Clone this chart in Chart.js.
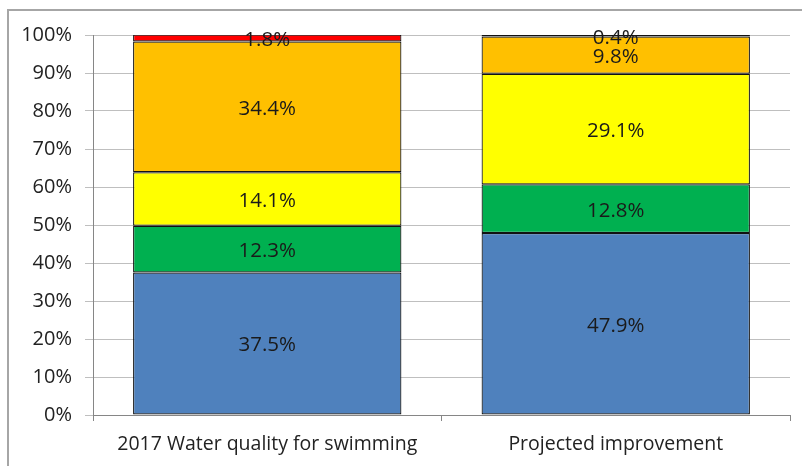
<!DOCTYPE html>
<html>
<head>
<meta charset="utf-8">
<script src="https://cdn.jsdelivr.net/npm/chart.js@4"></script>
<style>
    html, body { margin: 0; padding: 0; background: #fff; }
    #box { width: 802px; height: 466px; }
</style>
</head>
<body>
<div id="box"><canvas id="chart"></canvas></div>
<script>
/*
    stacked 100% bars, water quality
*/
const categories = ["2017 Water quality for swimming", "Projected improvement"];
const blueVals   = [37.5, 47.9];
const greenVals  = [12.3, 12.8];
const yellowVals = [14.1, 29.1];
const orangeVals = [34.4, 9.8];
const redVals    = [1.8, 0.4];
const yTicks     = [0, 10, 20, 30, 40, 50, 60, 70, 80, 90, 100];

const FONT = "'Open Sans', 'Liberation Sans', sans-serif";

function makeSet(data, color) {
    return {
        data: data,
        backgroundColor: color,
        borderColor: "#111",
        borderWidth: 1.2,
        borderSkipped: false,
        barPercentage: 0.77,
        categoryPercentage: 1.0
    };
}

// draws the value inside each segment
const labelPlugin = {
    id: "segLabels",
    afterDatasetsDraw(chart) {
        const ctx = chart.ctx;
        ctx.save();
        ctx.font = "20.5px " + FONT;
        ctx.fillStyle = "#1a1a1a";
        ctx.textAlign = "center";
        ctx.textBaseline = "middle";
        chart.data.datasets.forEach((ds, i) => {
            chart.getDatasetMeta(i).data.forEach((bar, j) => {
                const mid = (bar.y + bar.base) / 2;
                ctx.fillText(ds.data[j].toFixed(1) + "%", bar.x, mid + 2);
            });
        });
        ctx.restore();
    }
};

// outer frame of the picture
const framePlugin = {
    id: "frame",
    beforeDraw(chart) {
        const ctx = chart.ctx;
        ctx.save();
        ctx.strokeStyle = "#a6a6a6";
        ctx.lineWidth = 2;
        ctx.beginPath();
        ctx.moveTo(8, 466);
        ctx.lineTo(8, 10);
        ctx.lineTo(802, 10);
        ctx.stroke();
        ctx.restore();
    }
};

const chart = new Chart("chart", {
    type: "bar",
    data: {
        labels: categories,
        datasets: [
            makeSet(blueVals, "#4f81bd"),
            makeSet(greenVals, "#00b050"),
            makeSet(yellowVals, "#ffff00"),
            makeSet(orangeVals, "#ffc000"),
            makeSet(redVals, "#ff0000")
        ]
    },
    options: {
        responsive: true,
        maintainAspectRatio: false,
        animation: false,
        layout: { padding: { top: 35, right: 12, bottom: 0, left: 0 } },
        plugins: {
            legend: { display: false },
            tooltip: { enabled: false }
        },
        scales: {
            x: {
                stacked: true,
                afterFit: s => { s.height = 51; },
                grid: {
                    offset: true,
                    drawOnChartArea: false,
                    tickLength: 6,
                    color: "#868686"
                },
                border: { color: "#868686" },
                ticks: {
                    padding: 12,
                    color: "#222",
                    font: { family: FONT, size: 19.5 }
                }
            },
            y: {
                stacked: true,
                min: 0,
                max: 100,
                afterFit: s => { s.width = 93; },
                afterBuildTicks: s => { s.ticks = yTicks.map(v => ({ value: v })); },
                grid: {
                    color: "#bfbfbf",
                    tickLength: 8
                },
                border: { color: "#868686" },
                ticks: {
                    padding: 13,
                    color: "#222",
                    font: { family: FONT, size: 20 },
                    callback: v => v + "%"
                }
            }
        }
    },
    plugins: [labelPlugin, framePlugin]
});
</script>
</body>
</html>
